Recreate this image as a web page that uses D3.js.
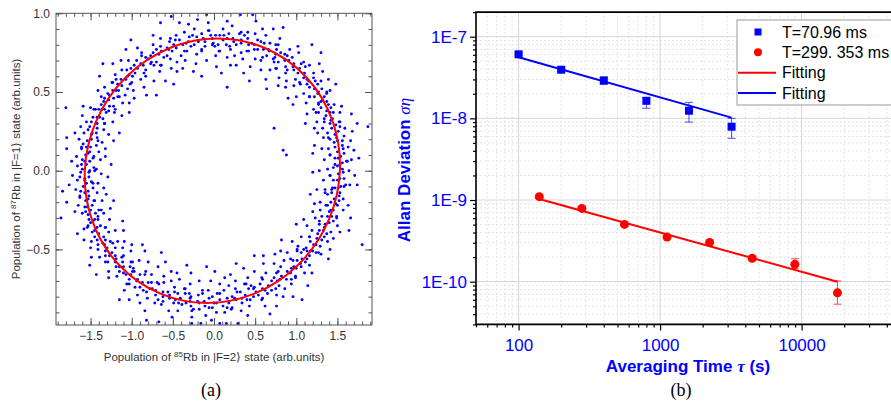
<!DOCTYPE html>
<html>
<head>
<meta charset="utf-8">
<script src="https://cdn.jsdelivr.net/npm/d3@7"></script>
<style>
  body { margin: 0; background: #fff; }
  svg { font-family: Arial, "Liberation Sans", sans-serif; }
</style>
</head>
<body>
<svg id="chart"></svg>
<script>
// ---- (a) populations, one point per shot ----
const cloud = [
  [1.28,0],[1.38,.01],[1.45,.02],[1.5,.03],[1.53,.04],[1.56,.05],[1.61,.06],[1.67,.07],[1.76,.08],[1.34,.07],[1.47,.08],[1.54,.09],[1.58,.11],[1.41,.1],[1.7,.13],[1.5,.12],[1.2,.11],[1.63,.15],
  [1.39,.14],[1.56,.16],[1.31,.14],[1.66,.19],[1.46,.18],[1.5,.19],[1.22,.16],[1.58,.22],[1.41,.2],[1.68,.25],[1.47,.23],[1.33,.21],[1.51,.25],[1.74,.3],[1.38,.24],[1.53,.28],[1.26,.24],[1.48,.29],
  [1.53,.31],[1.32,.27],[1.41,.3],[1.67,.36],[1.22,.27],[1.44,.33],[1.34,.31],[1.53,.37],[1.25,.31],[1.45,.37],[1.36,.35],[1.55,.41],[1.11,.3],[1.37,.38],[1.46,.42],[1.27,.37],[1.39,.42],[1.3,.4],
  [1.13,.36],[1.21,.39],[1.27,.42],[1.3,.44],[1.32,.45],[1.34,.47],[1.37,.49],[1.41,.51],[1.48,.55],[1.12,.43],[1.22,.47],[1.27,.5],[1.31,.52],[1.16,.47],[1.39,.58],[1.22,.52],[.96,.42],[1.3,.57],
  [1.09,.49],[1.23,.57],[1,.47],[1.32,.63],[1.13,.55],[1.15,.57],[.9,.46],[1.21,.62],[1.05,.55],[1.28,.68],[1.09,.59],[.97,.54],[1.1,.62],[1.3,.75],[.99,.58],[1.11,.66],[.87,.53],[1.04,.65],
  [1.09,.69],[.88,.57],[.97,.64],[1.19,.8],[.78,.54],[.97,.68],[.87,.62],[1.03,.75],[.79,.59],[.95,.72],[.87,.66],[1.02,.79],[.64,.52],[.86,.7],[.92,.77],[.76,.65],[.86,.74],[.78,.69],
  [.63,.58],[.68,.64],[.73,.69],[.74,.72],[.75,.74],[.76,.77],[.78,.8],[.8,.84],[.84,.91],[.57,.64],[.64,.73],[.66,.77],[.68,.81],[.57,.7],[.72,.9],[.6,.77],[.43,.57],[.63,.86],
  [.5,.71],[.57,.82],[.44,.66],[.59,.9],[.49,.77],[.49,.8],[.36,.62],[.5,.87],[.42,.76],[.51,.95],[.42,.8],[.35,.71],[.41,.84],[.47,.99],[.33,.75],[.37,.86],[.27,.67],[.33,.83],
  [.33,.88],[.25,.73],[.27,.8],[.32,.99],[.2,.67],[.23,.84],[.2,.77],[.22,.92],[.16,.72],[.18,.87],[.15,.8],[.16,.95],[.09,.62],[.11,.83],[.11,.9],[.07,.76],[.07,.86],[.05,.8],
  [.03,.66],[.02,.73],[.01,.79],[-.01,.81],[-.02,.84],[-.04,.86],[-.06,.89],[-.07,.94],[-.09,.99],[-.09,.7],[-.11,.79],[-.13,.84],[-.15,.87],[-.15,.76],[-.2,.96],[-.19,.82],[-.15,.6],[-.24,.9],
  [-.21,.74],[-.26,.86],[-.22,.68],[-.31,.93],[-.28,.79],[-.31,.82],[-.25,.63],[-.36,.88],[-.33,.76],[-.42,.94],[-.38,.8],[-.35,.7],[-.42,.83],[-.52,.98],[-.4,.73],[-.47,.83],[-.38,.65],[-.49,.8],
  [-.53,.84],[-.45,.69],[-.51,.76],[-.65,.94],[-.45,.63],[-.57,.78],[-.53,.71],[-.65,.84],[-.52,.65],[-.65,.79],[-.61,.72],[-.74,.86],[-.49,.55],[-.67,.74],[-.74,.8],[-.64,.67],[-.74,.75],[-.7,.69],
  [-.59,.57],[-.66,.63],[-.73,.67],[-.76,.69],[-.8,.71],[-.83,.72],[-.88,.75],[-.93,.78],[-1.01,.83],[-.73,.57],[-.83,.64],[-.89,.68],[-.94,.7],[-.83,.6],[-1.07,.77],[-.93,.65],[-.7,.48],[-1.04,.7],
  [-.89,.58],[-1.01,.65],[-.85,.53],[-1.13,.7],[-.99,.6],[-1.03,.61],[-.82,.48],[-1.12,.64],[-1,.56],[-1.23,.68],[-1.07,.58],[-.98,.51],[-1.13,.58],[-1.35,.68],[-1.05,.52],[-1.19,.58],[-.97,.46],[-1.17,.55],
  [-1.23,.56],[-1.08,.48],[-1.16,.51],[-1.39,.6],[-1.03,.43],[-1.23,.51],[-1.15,.47],[-1.33,.53],[-1.11,.43],[-1.29,.49],[-1.22,.46],[-1.41,.51],[-1.03,.37],[-1.28,.45],[-1.37,.47],[-1.22,.41],[-1.34,.44],[-1.27,.41],
  [-1.12,.35],[-1.21,.37],[-1.28,.38],[-1.33,.39],[-1.36,.39],[-1.4,.39],[-1.44,.39],[-1.5,.4],[-1.59,.41],[-1.23,.31],[-1.35,.33],[-1.42,.34],[-1.47,.34],[-1.33,.3],[-1.6,.35],[-1.42,.3],[-1.15,.24],[-1.55,.31],
  [-1.34,.26],[-1.51,.28],[-1.28,.23],[-1.62,.28],[-1.43,.24],[-1.48,.24],[-1.22,.19],[-1.58,.24],[-1.42,.21],[-1.69,.24],[-1.49,.2],[-1.36,.18],[-1.54,.19],[-1.79,.21],[-1.43,.16],[-1.59,.17],[-1.32,.14],[-1.55,.15],
  [-1.61,.15],[-1.4,.12],[-1.51,.12],[-1.79,.14],[-1.32,.09],[-1.56,.1],[-1.46,.09],[-1.67,.09],[-1.38,.07],[-1.6,.07],[-1.51,.06],[-1.73,.06],[-1.25,.04],[-1.55,.04],[-1.66,.03],[-1.46,.02],[-1.6,.01],[-1.51,0],
  [-1.45,0],[-1.62,-.01],[-1.37,-.02],[-1.72,-.03],[-1.52,-.04],[-1.57,-.05],[-1.29,-.04],[-1.66,-.06],[-1.49,-.07],[-1.76,-.09],[-1.55,-.08],[-1.41,-.08],[-1.59,-.1],[-1.84,-.13],[-1.47,-.11],[-1.62,-.13],[-1.34,-.11],[-1.57,-.14],
  [-1.63,-.16],[-1.42,-.14],[-1.52,-.16],[-1.79,-.2],[-1.31,-.15],[-1.56,-.19],[-1.45,-.19],[-1.65,-.22],[-1.36,-.19],[-1.57,-.23],[-1.48,-.22],[-1.69,-.26],[-1.22,-.19],[-1.5,-.25],[-1.6,-.27],[-1.4,-.25],[-1.53,-.28],[-1.44,-.27],
  [-1.26,-.24],[-1.34,-.27],[-1.41,-.29],[-1.45,-.31],[-1.47,-.32],[-1.5,-.33],[-1.53,-.35],[-1.58,-.37],[-1.66,-.4],[-1.27,-.31],[-1.38,-.35],[-1.45,-.38],[-1.48,-.39],[-1.32,-.36],[-1.58,-.44],[-1.4,-.4],[-1.11,-.32],[-1.49,-.45],
  [-1.28,-.39],[-1.42,-.44],[-1.2,-.38],[-1.5,-.49],[-1.32,-.44],[-1.35,-.46],[-1.1,-.38],[-1.41,-.5],[-1.26,-.45],[-1.49,-.55],[-1.3,-.49],[-1.17,-.45],[-1.32,-.51],[-1.51,-.6],[-1.2,-.49],[-1.32,-.54],[-1.09,-.45],[-1.27,-.54],
  [-1.32,-.58],[-1.11,-.49],[-1.2,-.54],[-1.43,-.66],[-1,-.47],[-1.2,-.58],[-1.1,-.54],[-1.28,-.64],[-1.01,-.51],[-1.19,-.61],[-1.11,-.58],[-1.28,-.68],[-.87,-.47],[-1.1,-.61],[-1.18,-.67],[-1.01,-.58],[-1.1,-.65],[-1.02,-.61],
  [-.84,-.51],[-.91,-.57],[-.98,-.62],[-.99,-.64],[-1.01,-.66],[-1.03,-.69],[-1.06,-.72],[-1.09,-.76],[-1.15,-.82],[-.8,-.58],[-.9,-.66],[-.94,-.7],[-.96,-.74],[-.83,-.64],[-1.03,-.82],[-.87,-.71],[-.64,-.52],[-.93,-.79],
  [-.76,-.66],[-.86,-.76],[-.68,-.61],[-.9,-.84],[-.76,-.71],[-.78,-.75],[-.59,-.58],[-.81,-.81],[-.69,-.71],[-.84,-.89],[-.71,-.76],[-.61,-.67],[-.71,-.79],[-.82,-.95],[-.61,-.71],[-.68,-.82],[-.52,-.64],[-.62,-.8],
  [-.64,-.85],[-.52,-.7],[-.56,-.77],[-.67,-.96],[-.45,-.65],[-.54,-.81],[-.48,-.74],[-.55,-.89],[-.42,-.69],[-.49,-.84],[-.44,-.78],[-.51,-.93],[-.33,-.6],[-.41,-.81],[-.44,-.89],[-.36,-.75],[-.39,-.85],[-.35,-.78],
  [-.28,-.65],[-.29,-.72],[-.3,-.78],[-.29,-.81],[-.29,-.83],[-.28,-.86],[-.27,-.89],[-.27,-.93],[-.27,-.97],[-.18,-.7],[-.19,-.79],[-.18,-.84],[-.18,-.88],[-.14,-.76],[-.16,-.97],[-.12,-.83],[-.09,-.61],[-.1,-.92],
  [-.07,-.76],[-.06,-.87],[-.04,-.7],[-.03,-.95],[-.02,-.8],[0,-.84],[.01,-.64],[.03,-.9],[.04,-.78],[.07,-.97],[.07,-.82],[.07,-.72],[.11,-.86],[.15,-.97],[.12,-.76],[.16,-.87],[.13,-.68],[.18,-.84],
  [.21,-.88],[.18,-.73],[.22,-.8],[.29,-.97],[.2,-.66],[.27,-.82],[.26,-.75],[.33,-.89],[.26,-.7],[.34,-.84],[.32,-.77],[.41,-.92],[.27,-.59],[.38,-.79],[.43,-.86],[.37,-.72],[.44,-.82],[.42,-.75],
  [.36,-.62],[.41,-.68],[.45,-.73],[.48,-.75],[.51,-.77],[.54,-.79],[.58,-.82],[.62,-.86],[.68,-.91],[.49,-.64],[.56,-.72],[.62,-.76],[.65,-.78],[.58,-.68],[.76,-.86],[.66,-.73],[.49,-.54],[.76,-.79],
  [.63,-.65],[.75,-.75],[.6,-.59],[.84,-.8],[.73,-.68],[.77,-.7],[.6,-.54],[.86,-.75],[.76,-.65],[.96,-.8],[.82,-.67],[.73,-.59],[.88,-.69],[1.07,-.82],[.81,-.61],[.94,-.69],[.74,-.53],[.93,-.65],
  [.99,-.68],[.85,-.57],[.94,-.62],[1.14,-.73],[.81,-.51],[1,-.62],[.93,-.56],[1.1,-.65],[.89,-.52],[1.06,-.61],[1.01,-.57],[1.19,-.65],[.82,-.44],[1.07,-.56],[1.16,-.6],[1.01,-.51],[1.13,-.56],[1.06,-.52],
  [.95,-.45],[1.02,-.48],[1.09,-.5],[1.13,-.51],[1.17,-.51],[1.2,-.51],[1.24,-.52],[1.3,-.53],[1.39,-.56],[1.06,-.42],[1.17,-.45],[1.24,-.47],[1.29,-.48],[1.16,-.42],[1.41,-.5],[1.25,-.43],[1,-.34],[1.38,-.45],
  [1.19,-.38],[1.34,-.42],[1.13,-.35],[1.45,-.43],[1.28,-.38],[1.33,-.38],[1.09,-.31],[1.42,-.39],[1.28,-.34],[1.53,-.39],[1.35,-.34],[1.23,-.3],[1.4,-.33],[1.64,-.38],[1.31,-.29],[1.45,-.32],[1.2,-.26],[1.43,-.29],
  [1.49,-.3],[1.29,-.25],[1.4,-.26],[1.66,-.3],[1.22,-.21],[1.45,-.25],[1.36,-.22],[1.57,-.25],[1.29,-.2],[1.5,-.22],[1.42,-.2],[1.63,-.22],[1.17,-.15],[1.46,-.18],[1.57,-.18],[1.38,-.15],[1.52,-.16],[1.43,-.14],
  [1.25,-.12],[1.35,-.12],[1.43,-.12],[1.47,-.11],[1.51,-.11],[1.54,-.1],[1.58,-.1],[1.65,-.09],[1.74,-.09],[1.33,-.06],[1.45,-.06],[1.53,-.05],[1.58,-.05],[1.41,-.03],[1.71,-.03],[1.51,-.02],[1.2,-.01],[1.64,0],
  [-1.8,.4],[.73,.27],[.84,.13],[.16,.53],[1.87,.28],[-1.86,-.3],[1.8,-.47],[.88,.1],
  // denser core of the ring, close to the fitted curve
  [1.56,.01],[1.47,.04],[1.62,.06],[1.51,.08],[1.41,.1],[1.57,.14],[1.47,.15],[1.56,.19],[1.49,.21],[1.39,.21],[1.59,.27],[1.43,.27],
  [1.52,.31],[1.42,.32],[1.34,.33],[1.41,.37],[1.42,.4],[1.24,.37],[1.37,.44],[1.27,.43],[1.37,.5],[1.26,.49],[1.16,.47],[1.26,.55],
  [1.16,.53],[1.21,.59],[1.13,.58],[1.04,.56],[1.16,.67],[1.02,.62],[1.06,.68],[.96,.66],[.89,.64],[.91,.7],[.89,.73],[.75,.65],
  [.81,.75],[.72,.71],[.75,.8],[.67,.76],[.59,.72],[.61,.81],[.53,.77],[.53,.83],[.46,.81],[.4,.76],[.41,.88],[.33,.81],
  [.31,.87],[.24,.82],[.19,.79],[.16,.84],[.12,.86],[.06,.76],[.02,.86],[-.02,.8],[-.07,.89],[-.11,.82],[-.15,.77],[-.21,.85],
  [-.24,.8],[-.3,.85],[-.34,.81],[-.36,.76],[-.46,.86],[-.46,.78],[-.54,.82],[-.55,.77],[-.57,.73],[-.64,.76],[-.7,.77],[-.65,.67],
  [-.77,.73],[-.77,.68],[-.88,.73],[-.86,.67],[-.85,.62],[-.97,.67],[-.96,.62],[-1.06,.64],[-1.05,.6],[-1.02,.55],[-1.2,.61],[-1.12,.54],
  [-1.24,.56],[-1.19,.51],[-1.17,.47],[-1.27,.48],[-1.33,.46],[-1.2,.39],[-1.37,.42],[-1.31,.37],[-1.46,.39],[-1.39,.34],[-1.33,.3],[-1.49,.31],
  [-1.42,.27],[-1.53,.26],[-1.49,.23],[-1.41,.19],[-1.64,.2],[-1.5,.15],[-1.61,.14],[-1.53,.11],[-1.47,.08],[-1.57,.06],[-1.61,.04],[-1.43,.01],
  [-1.52,-.01],[-1.63,-.04],[-1.57,-.06],[-1.47,-.08],[-1.68,-.12],[-1.53,-.13],[-1.63,-.17],[-1.53,-.18],[-1.46,-.19],[-1.54,-.23],[-1.56,-.26],[-1.37,-.25],
  [-1.52,-.31],[-1.41,-.31],[-1.54,-.36],[-1.42,-.36],[-1.32,-.36],[-1.45,-.42],[-1.34,-.42],[-1.41,-.47],[-1.33,-.47],[-1.23,-.46],[-1.39,-.55],[-1.24,-.52],
  [-1.29,-.58],[-1.19,-.56],[-1.12,-.55],[-1.15,-.61],[-1.15,-.64],[-.99,-.58],[-1.07,-.66],[-.97,-.64],[-1.03,-.72],[-.93,-.69],[-.84,-.66],[-.9,-.74],
  [-.8,-.71],[-.82,-.77],[-.75,-.75],[-.67,-.72],[-.72,-.84],[-.62,-.77],[-.62,-.83],[-.54,-.79],[-.48,-.77],[-.47,-.82],[-.43,-.84],[-.35,-.75],
  [-.34,-.84],[-.28,-.8],[-.25,-.88],[-.2,-.83],[-.14,-.78],[-.11,-.86],[-.06,-.81],[-.02,-.87],[.03,-.84],[.07,-.78],[.13,-.9],[.16,-.81],
  [.22,-.87],[.25,-.81],[.28,-.77],[.34,-.81],[.4,-.82],[.39,-.72],[.48,-.8],[.49,-.74],[.59,-.81],[.59,-.75],[.59,-.69],[.7,-.76],
  [.7,-.7],[.79,-.73],[.8,-.69],[.78,-.64],[.94,-.72],[.89,-.64],[.99,-.67],[.97,-.61],[.96,-.57],[1.05,-.59],[1.11,-.58],[1.01,-.5],
  [1.16,-.54],[1.12,-.49],[1.27,-.52],[1.21,-.47],[1.16,-.42],[1.31,-.44],[1.26,-.4],[1.37,-.4],[1.34,-.36],[1.28,-.32],[1.5,-.35],[1.38,-.29],
  [1.49,-.29],[1.42,-.25],[1.38,-.22],[1.48,-.21],[1.52,-.19],[1.35,-.14],[1.53,-.14],[1.44,-.11],[1.6,-.09],[1.5,-.06],[1.41,-.03],[1.57,-.01]
];
// fitted ellipse: centre x, centre y, semi-axis x, semi-axis y, shear
const ellipseFit = [-0.02, 0, 1.55, 0.84, 0.065];
const aXTicks = [-1.5, -1, -0.5, 0, 0.5, 1, 1.5];
const aYTicks = [-0.5, 0, 0.5, 1];

// ---- (b) Allan deviation ----
const tauBlue = [100, 200, 400, 800, 1600, 3200];
const sigBlue = [6.08e-8, 3.94e-8, 2.92e-8, 1.64e-8, 1.24e-8, 7.9e-9];
const hiBlue  = [6.3e-8, 4.08e-8, 3.15e-8, 1.79e-8, 1.57e-8, 1.0e-8];
const loBlue  = [5.85e-8, 3.8e-8, 2.6e-8, 1.33e-8, 9.0e-9, 5.7e-9];
const tauRed = [140, 280, 560, 1120, 2240, 4480, 8960, 17920];
const sigRed = [1.10e-9, 7.9e-10, 5.03e-10, 3.52e-10, 3.03e-10, 1.93e-10, 1.63e-10, 7.3e-11];
const hiRed  = [1.13e-9, 8.1e-10, 5.2e-10, 3.62e-10, 3.12e-10, 2.05e-10, 1.91e-10, 1.02e-10];
const loRed  = [1.07e-9, 7.7e-10, 4.85e-10, 3.42e-10, 2.95e-10, 1.83e-10, 1.44e-10, 5.3e-11];
const fitBlue = [[100, 5.6e-8], [3200, 1.02e-8]];
const fitRed  = [[140, 1.03e-9], [17920, 1.0e-10]];
const bXTicks = [100, 1000, 10000];
const bYTicks = [1e-7, 1e-8, 1e-9, 1e-10];
const bYLabels = ["1E-7", "1E-8", "1E-9", "1E-10"];
const legendNames = ["T=70.96 ms", "T=299. 353 ms", "Fitting", "Fitting"];

const svg = d3.select("#chart").attr("width", 891).attr("height", 401);

// ================= panel (a) =================
const xa = d3.scaleLinear().domain([-1.92, 1.92]).range([56, 372]);
const ya = d3.scaleLinear().domain([-0.98, 1.0]).range([325, 13.3]);
const ga = svg.append("g");

ga.append("clipPath").attr("id", "clipA")
  .append("rect")
  .attr("x", 56).attr("y", 13.3).attr("width", 316).attr("height", 311.7);

ga.append("g")
  .attr("clip-path", "url(#clipA)")
  .selectAll("circle")
  .data(cloud)
  .join("circle")
  .attr("cx", d => xa(d[0]))
  .attr("cy", d => ya(d[1]))
  .attr("r", 1.45)
  .attr("fill", "#0000ff");

const [ecx, ecy, ea, eb, eh] = ellipseFit;
const pxX = xa(1) - xa(0), pxY = ya(0) - ya(1);
const skew = Math.atan(-(eh / eb) * pxX / pxY) * 180 / Math.PI;
ga.append("ellipse")
  .attr("transform", "translate(" + xa(ecx) + "," + ya(ecy) + ") skewX(" + skew + ")")
  .attr("rx", ea * pxX)
  .attr("ry", eb * pxY)
  .attr("fill", "none")
  .attr("stroke", "#ff0000")
  .attr("stroke-width", 2);

// frame with inward ticks on all sides
const minorX = xa.ticks(40), minorY = ya.ticks(20);
function frameAxis(axis, pos, vals, size, labels) {
  const g = ga.append("g").attr("transform", pos)
    .call(axis.tickValues(vals).tickSize(size).tickPadding(6)
      .tickFormat(labels ? d3.format(".1f") : ""));
  g.select(".domain").remove();
  g.selectAll("line").attr("stroke", "#555");
  g.selectAll("text").attr("fill", "#333").style("font-size", "12px");
}
frameAxis(d3.axisBottom(xa), "translate(0,325)", minorX, -3.5, false);
frameAxis(d3.axisBottom(xa), "translate(0,325)", aXTicks, -7, true);
frameAxis(d3.axisTop(xa), "translate(0,13.3)", minorX, -3.5, false);
frameAxis(d3.axisTop(xa), "translate(0,13.3)", aXTicks, -7, false);
frameAxis(d3.axisLeft(ya), "translate(56,0)", minorY, -3.5, false);
frameAxis(d3.axisLeft(ya), "translate(56,0)", aYTicks, -7, true);
frameAxis(d3.axisRight(ya), "translate(372,0)", minorY, -3.5, false);
frameAxis(d3.axisRight(ya), "translate(372,0)", aYTicks, -7, false);

ga.append("rect")
  .attr("x", 56).attr("y", 13.3).attr("width", 316).attr("height", 311.7)
  .attr("fill", "none").attr("stroke", "#555").attr("stroke-width", 1);

const xlab = ga.append("text")
  .attr("x", 214).attr("y", 361)
  .attr("text-anchor", "middle")
  .attr("fill", "#333")
  .style("font-size", "11.5px");
xlab.append("tspan").text("Population of ");
xlab.append("tspan").attr("dy", -4).style("font-size", "8px").text("85");
xlab.append("tspan").attr("dy", 4).text("Rb in |F=2\u27E9 state (arb.units)");

const ylab = ga.append("text")
  .attr("transform", "translate(20,169) rotate(-90)")
  .attr("text-anchor", "middle")
  .attr("fill", "#333")
  .style("font-size", "11.5px");
ylab.append("tspan").text("Population of ");
ylab.append("tspan").attr("dy", -4).style("font-size", "8px").text("87");
ylab.append("tspan").attr("dy", 4).text("Rb in |F=1\u27E9 state (arb.units)");

svg.append("text")
  .attr("x", 211).attr("y", 396)
  .attr("text-anchor", "middle")
  .style("font-family", "'Liberation Serif', 'Times New Roman', serif")
  .style("font-size", "18px")
  .text("(a)");

// ================= panel (b) =================
const xb = d3.scaleLog().domain([50, 50000]).range([476, 900.5]);
const yb = d3.scaleLog().domain([3e-11, 2e-7]).range([324.4, 12.1]);
const gb = svg.append("g");
const blue = "#0000ff", red = "#ff0000";

const minorXb = xb.ticks().filter(v => !bXTicks.includes(v));
const minorYb = yb.ticks().filter(v => !bYTicks.some(t => Math.abs(t - v) / t < 1e-6));

// grid
gb.append("g").selectAll("line").data(minorXb).join("line")
  .attr("x1", d => xb(d)).attr("x2", d => xb(d))
  .attr("y1", 12.1).attr("y2", 324.4)
  .attr("stroke", "#e4e4e4").attr("stroke-dasharray", "2,2");
gb.append("g").selectAll("line").data(minorYb).join("line")
  .attr("x1", 476).attr("x2", 891)
  .attr("y1", d => yb(d)).attr("y2", d => yb(d))
  .attr("stroke", "#e4e4e4").attr("stroke-dasharray", "2,2");
gb.append("g").selectAll("line").data(bXTicks).join("line")
  .attr("x1", d => xb(d)).attr("x2", d => xb(d))
  .attr("y1", 12.1).attr("y2", 324.4)
  .attr("stroke", "#d6d6d6");
gb.append("g").selectAll("line").data(bYTicks).join("line")
  .attr("x1", 476).attr("x2", 891)
  .attr("y1", d => yb(d)).attr("y2", d => yb(d))
  .attr("stroke", "#d6d6d6");

// fits
const line = d3.line().x(d => xb(d[0])).y(d => yb(d[1]));
gb.append("path").attr("d", line(fitBlue)).attr("fill", "none")
  .attr("stroke", blue).attr("stroke-width", 2);
gb.append("path").attr("d", line(fitRed)).attr("fill", "none")
  .attr("stroke", red).attr("stroke-width", 2);

// error bars
function errBars(taus, lo, hi, color) {
  const g = gb.append("g").attr("stroke", color).attr("stroke-width", 1).attr("opacity", 0.7);
  taus.forEach((t, i) => {
    const x = xb(t);
    g.append("line").attr("x1", x).attr("x2", x).attr("y1", yb(lo[i])).attr("y2", yb(hi[i]));
    g.append("line").attr("x1", x - 4).attr("x2", x + 4).attr("y1", yb(lo[i])).attr("y2", yb(lo[i]));
    g.append("line").attr("x1", x - 4).attr("x2", x + 4).attr("y1", yb(hi[i])).attr("y2", yb(hi[i]));
  });
}
errBars(tauBlue, loBlue, hiBlue, blue);
errBars(tauRed, loRed, hiRed, red);

gb.append("g").selectAll("rect").data(tauBlue).join("rect")
  .attr("x", d => xb(d) - 4)
  .attr("y", (d, i) => yb(sigBlue[i]) - 4)
  .attr("width", 8).attr("height", 8)
  .attr("fill", blue);
gb.append("g").selectAll("circle").data(tauRed).join("circle")
  .attr("cx", d => xb(d))
  .attr("cy", (d, i) => yb(sigRed[i]))
  .attr("r", 4.5)
  .attr("fill", red);

// axes
function logAxis(axis, pos, vals, size, fmt) {
  const g = gb.append("g").attr("transform", pos)
    .call(axis.tickValues(vals).tickSize(size).tickPadding(3).tickFormat(fmt));
  g.select(".domain").remove();
  g.selectAll("line").attr("stroke", "#000").attr("stroke-width", 1.2);
  g.selectAll("text").attr("fill", blue).style("font-size", "17px");
  return g;
}
logAxis(d3.axisLeft(yb), "translate(476,0)", minorYb, 3, "");
logAxis(d3.axisLeft(yb), "translate(476,0)", bYTicks, 6, (d, i) => bYLabels[i]);
logAxis(d3.axisBottom(xb), "translate(0,324.4)", minorXb, 3, "");
logAxis(d3.axisBottom(xb), "translate(0,324.4)", bXTicks, 6, d3.format("d"))
  .selectAll("text").attr("dy", "1.05em");

gb.append("path")
  .attr("d", "M891,12.1H476V324.4H891")
  .attr("fill", "none").attr("stroke", "#000").attr("stroke-width", 1.6);

// legend
const lg = gb.append("g");
lg.append("rect").attr("x", 737).attr("y", 20).attr("width", 170).attr("height", 85)
  .attr("fill", "#fff").attr("stroke", "#999");
const rowY = d3.scalePoint().domain(legendNames.map((d, i) => i)).range([32, 93]);
lg.append("rect").attr("x", 754.5).attr("y", rowY(0) - 3.5).attr("width", 7).attr("height", 7).attr("fill", blue);
lg.append("circle").attr("cx", 758).attr("cy", rowY(1)).attr("r", 4).attr("fill", red);
lg.append("line").attr("x1", 738).attr("x2", 776).attr("y1", rowY(2)).attr("y2", rowY(2))
  .attr("stroke", red).attr("stroke-width", 2);
lg.append("line").attr("x1", 738).attr("x2", 776).attr("y1", rowY(3)).attr("y2", rowY(3))
  .attr("stroke", blue).attr("stroke-width", 2);
lg.selectAll("text").data(legendNames).join("text")
  .attr("x", 782)
  .attr("y", (d, i) => rowY(i) + 5.5)
  .style("font-size", "16px")
  .text(d => d);

// titles
const xt = gb.append("text")
  .attr("x", 688).attr("y", 372)
  .attr("text-anchor", "middle")
  .attr("fill", blue)
  .style("font-size", "17px").style("font-weight", "bold");
xt.append("tspan").text("Averaging Time ");
xt.append("tspan").style("font-style", "italic").style("font-family", "'Liberation Serif', serif").text("\u03C4");
xt.append("tspan").text(" (s)");

const yt = gb.append("text")
  .attr("transform", "translate(410,170) rotate(-90)")
  .attr("text-anchor", "middle")
  .attr("fill", blue)
  .style("font-size", "17px").style("font-weight", "bold");
yt.append("tspan").text("Allan Deviation ");
yt.append("tspan").style("font-style", "italic").style("font-weight", "normal")
  .style("font-family", "'Liberation Serif', serif").text("\u03C3\u03B7");

svg.append("text")
  .attr("x", 681).attr("y", 396)
  .attr("text-anchor", "middle")
  .style("font-family", "'Liberation Serif', 'Times New Roman', serif")
  .style("font-size", "18px")
  .text("(b)");
</script>
</body>
</html>
